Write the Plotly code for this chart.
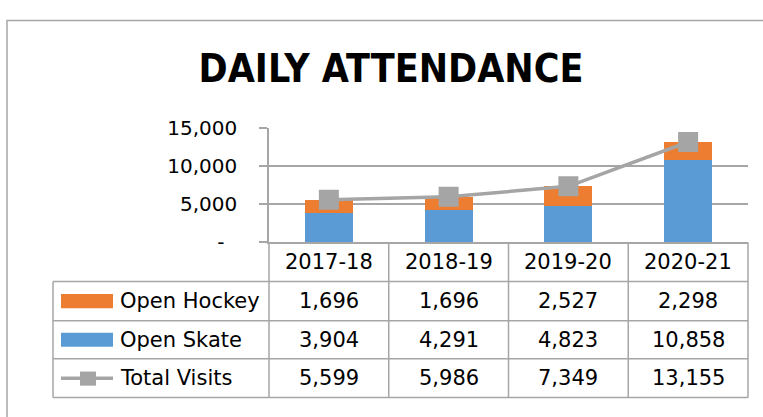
import plotly.graph_objects as go

# ---- data ----
categories = ["2017-18", "2018-19", "2019-20", "2020-21"]
open_hockey = [1696, 1696, 2527, 2298]
open_skate = [3904, 4291, 4823, 10858]
total_visits = [5599, 5986, 7349, 13155]
series_names = ["Open Hockey", "Open Skate", "Total Visits"]
y_tickvals = [0, 5000, 10000, 15000]
y_ticktext = ["-<span style='color:white'>0</span>", "5,000", "10,000", "15,000"]

# ---- styling ----
W, H = 763, 417
ORANGE = "#ED7D31"
BLUE = "#5B9BD5"
GRAY = "#A5A5A5"
LINE = "#A6A6A6"
FONT = "DejaVu Sans"
TITLE_FONT = "DejaVu Sans Condensed, DejaVu Sans"


def X(px):
    return px / W


def Y(py):
    return 1 - py / H


# plot area in pixels
PL, PR = 269, 748
PT, PB = 123, 244.5
TBL_L = 53
ROWS = [244.5, 286, 327.5, 368, 409]

fig = go.Figure()
fig.add_trace(go.Bar(x=categories, y=open_skate, name=series_names[1],
                     marker=dict(color=BLUE, line=dict(width=0))))
fig.add_trace(go.Bar(x=categories, y=open_hockey, name=series_names[0],
                     marker=dict(color=ORANGE, line=dict(width=0))))
fig.add_trace(go.Scatter(x=categories, y=total_visits, name=series_names[2],
                         mode="lines+markers",
                         line=dict(color=GRAY, width=3.5),
                         marker=dict(symbol="square", size=20, color=GRAY)))

shapes = []
annotations = []

# outer chart border
shapes.append(dict(type="rect", xref="paper", yref="paper",
                   x0=X(7), x1=X(W + 30), y0=Y(9), y1=Y(H + 30),
                   line=dict(color=LINE, width=1.5), fillcolor="rgba(0,0,0,0)"))

# table horizontal lines
for r in ROWS[1:]:
    shapes.append(dict(type="line", xref="paper", yref="paper",
                       x0=X(TBL_L), x1=X(PR), y0=Y(r), y1=Y(r),
                       line=dict(color=LINE, width=1.5)))
# table vertical lines
colw = (PR - PL) / len(categories)
shapes.append(dict(type="line", xref="paper", yref="paper",
                   x0=X(TBL_L), x1=X(TBL_L), y0=Y(ROWS[1]), y1=Y(ROWS[-1]),
                   line=dict(color=LINE, width=1.5)))
for i in range(len(categories) + 1):
    xx = PL + i * colw
    shapes.append(dict(type="line", xref="paper", yref="paper",
                       x0=X(xx), x1=X(xx), y0=Y(ROWS[0]), y1=Y(ROWS[-1]),
                       line=dict(color=LINE, width=1.5)))

# header labels
for i, c in enumerate(categories):
    annotations.append(dict(x=i, xref="x", y=Y((ROWS[0] + ROWS[1]) / 2), yref="paper",
                            text=c, showarrow=False, xanchor="center", yanchor="middle",
                            font=dict(family=FONT, size=21, color="#000000")))

row_series = [(series_names[0], open_hockey), (series_names[1], open_skate),
              (series_names[2], total_visits)]
for k, (nm, vals) in enumerate(row_series):
    cy = (ROWS[k + 1] + ROWS[k + 2]) / 2
    for i, v in enumerate(vals):
        annotations.append(dict(x=i, xref="x", y=Y(cy), yref="paper",
                                text=f"{v:,}", showarrow=False, xanchor="center",
                                yanchor="middle",
                                font=dict(family=FONT, size=21, color="#000000")))
    annotations.append(dict(x=X(118), xref="paper", y=Y(cy), yref="paper",
                            text=nm, showarrow=False, xanchor="left", yanchor="middle",
                            font=dict(family=FONT, size=21, color="#000000")))
    # legend keys
    if k == 0 or k == 1:
        col = ORANGE if k == 0 else BLUE
        shapes.append(dict(type="rect", xref="paper", yref="paper",
                           x0=X(61), x1=X(113), y0=Y(cy - 7.5), y1=Y(cy + 7.5),
                           fillcolor=col, line=dict(width=0)))
    else:
        shapes.append(dict(type="line", xref="paper", yref="paper",
                           x0=X(61), x1=X(113), y0=Y(cy), y1=Y(cy),
                           line=dict(color=GRAY, width=3.5)))
        shapes.append(dict(type="rect", xref="paper", yref="paper",
                           x0=X(80), x1=X(96), y0=Y(cy - 7), y1=Y(cy + 8),
                           fillcolor=GRAY, line=dict(width=0)))

fig.update_layout(
    width=W, height=H,
    margin=dict(l=0, r=0, t=0, b=0),
    paper_bgcolor="white", plot_bgcolor="white",
    barmode="stack", bargap=0.6,
    showlegend=False,
    title=dict(text="DAILY ATTENDANCE", x=X(391), xanchor="center",
               y=Y(59.5), yanchor="middle", xref="paper", yref="paper",
               font=dict(family=TITLE_FONT, size=39, color="#000000", weight="bold")),
    xaxis=dict(domain=[X(PL), X(PR)], range=[-0.5, len(categories) - 0.5],
               showticklabels=False, ticks="", showgrid=False, zeroline=False,
               showline=True, linecolor=LINE, linewidth=1.5, fixedrange=True),
    yaxis=dict(domain=[Y(PB), Y(PT)], range=[0, 15000],
               tickvals=y_tickvals, ticktext=y_ticktext,
               ticks="outside", ticklen=8, tickcolor=LINE, tickwidth=1.5,
               ticklabelstandoff=18,
               showgrid=True, gridcolor=LINE, gridwidth=1.5,
               zeroline=False, showline=True, linecolor=LINE, linewidth=1.5,
               tickfont=dict(family=FONT, size=20, color="#000000"), fixedrange=True),
    shapes=shapes,
    annotations=annotations,
)

fig.write_html(
    "out.html",
    config={"displayModeBar": False},
    post_script="document.body.style.margin='0';document.body.style.overflow='hidden';",
)
